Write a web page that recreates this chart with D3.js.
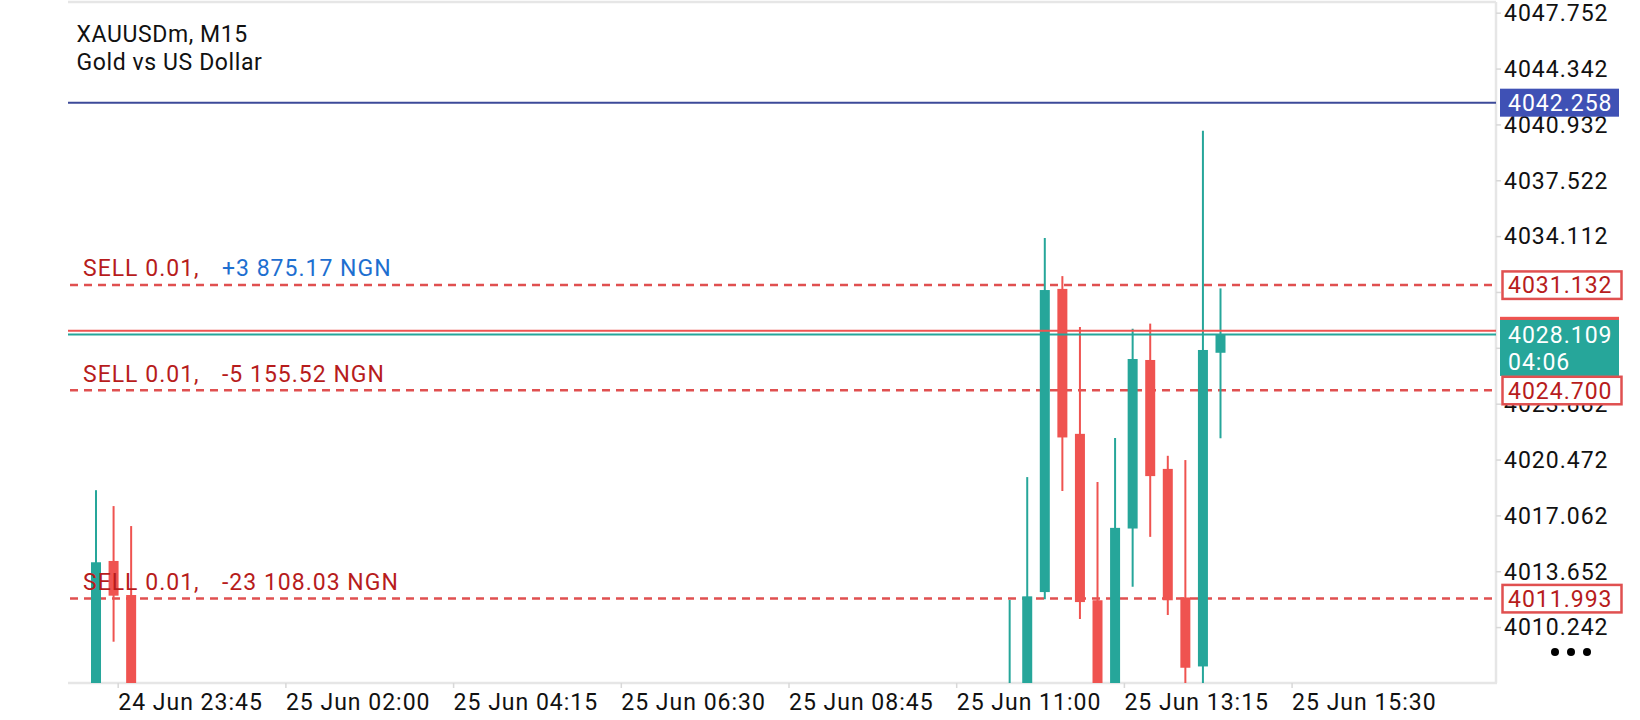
<!DOCTYPE html>
<html>
<head>
<meta charset="utf-8">
<script src="https://cdn.jsdelivr.net/npm/d3@7/dist/d3.min.js"></script>
<style>
  html, body { margin: 0; padding: 0; background: #ffffff; }
  svg { display: block; }
  text { font-family: Roboto, "Noto Sans", sans-serif; }
</style>
</head>
<body>
<svg id="chart" width="1640" height="720"></svg>
<script>
// ---------------- DATA ----------------
const symbolTitle = "XAUUSDm, M15";
const symbolDesc = "Gold vs US Dollar";

// visible candles: bar index (15-minute bars), OHLC
const barIndex = [0, 1, 2, 52, 53, 54, 55, 56, 57, 58, 59, 60, 61, 62, 63, 64];
const barOpen  = [4005.50, 4014.28, 4012.20, 4004.20, 4006.10, 4012.38, 4030.89, 4022.04, 4011.88, 4006.00, 4016.26, 4026.55, 4019.90, 4012.05, 4007.84, 4026.99];
const barHigh  = [4018.60, 4017.63, 4016.41, 4011.90, 4019.40, 4034.00, 4031.67, 4028.56, 4019.10, 4021.79, 4028.45, 4028.77, 4020.70, 4020.44, 4040.55, 4030.92];
const barLow   = [4004.80, 4009.35, 4004.50, 4003.60, 4005.40, 4011.94, 4018.55, 4010.74, 4004.90, 4005.20, 4012.70, 4015.75, 4010.98, 4006.30, 4006.40, 4021.77];
const barClose = [4014.20, 4012.16, 4005.90, 4006.10, 4012.12, 4030.82, 4021.82, 4011.77, 4006.00, 4016.30, 4026.61, 4019.46, 4011.88, 4007.76, 4027.16, 4028.109];

// price axis tick labels
const priceTicks = [4047.752, 4044.342, 4040.932, 4037.522, 4034.112, 4030.702, 4027.292, 4023.882, 4020.472, 4017.062, 4013.652, 4010.242];

// time axis tick labels
const timeTicks = [
  Date.UTC(2025, 5, 24, 23, 45), Date.UTC(2025, 5, 25, 2, 0), Date.UTC(2025, 5, 25, 4, 15),
  Date.UTC(2025, 5, 25, 6, 30), Date.UTC(2025, 5, 25, 8, 45), Date.UTC(2025, 5, 25, 11, 0),
  Date.UTC(2025, 5, 25, 13, 15), Date.UTC(2025, 5, 25, 15, 30)
];

// open positions
const orderPrice = [4031.132, 4024.700, 4011.993];
const orderSide = ["SELL 0.01,", "SELL 0.01,", "SELL 0.01,"];
const orderProfit = ["+3 875.17 NGN", "-5 155.52 NGN", "-23 108.03 NGN"];

const highLine = 4042.258;
const bidPrice = 4028.109;
const askPrice = 4028.33;
const countdown = "04:06";

// ---------------- LAYOUT ----------------
const plot = { left: 68, right: 1496, top: 2, bottom: 683 };
const priceTop = 4048.405, priceBottom = 4006.829;
const firstVisibleBar = -1.594, lastVisibleBar = 79.68;
const timeRangeStart = 117.7, timeRangeEnd = 1291.6;

const C_UP = "#26a69a", C_DN = "#ef5350", C_DASH = "#e05050";
const C_TXT_RED = "#b71c1c", C_TXT_BLUE = "#1e6fd0", C_BLUE = "#3f51b5";
const FONT = 23, LS = "1px";

const svg = d3.select("#chart");

const y = d3.scaleLinear().domain([priceBottom, priceTop]).range([plot.bottom, plot.top]);
const xb = d3.scaleLinear().domain([firstVisibleBar, lastVisibleBar]).range([plot.left, plot.right]);
const xt = d3.scaleUtc().domain([timeTicks[0], timeTicks[timeTicks.length - 1]]).range([timeRangeStart, timeRangeEnd]);

svg.append("defs").append("clipPath").attr("id", "plotClip")
  .append("rect").attr("x", plot.left).attr("y", plot.top)
  .attr("width", plot.right - plot.left).attr("height", plot.bottom - plot.top);

// frame
const frame = svg.append("g").attr("stroke", "#e6e6e6").attr("stroke-width", 2.5);
frame.append("line").attr("x1", plot.left).attr("x2", plot.right).attr("y1", plot.top).attr("y2", plot.top);
frame.append("line").attr("x1", plot.left).attr("x2", plot.right + 1).attr("y1", plot.bottom).attr("y2", plot.bottom);
frame.append("line").attr("x1", plot.right).attr("x2", plot.right).attr("y1", plot.top).attr("y2", plot.bottom);

// title
svg.append("text").attr("x", 76.5).attr("y", 41.7).attr("font-size", FONT).attr("letter-spacing", "0.6px")
  .attr("fill", "#111").text(symbolTitle);
svg.append("text").attr("x", 76.5).attr("y", 70).attr("font-size", FONT).attr("letter-spacing", "0.6px")
  .attr("fill", "#111").text(symbolDesc);

const plotG = svg.append("g").attr("clip-path", "url(#plotClip)");

// high line (blue)
plotG.append("line").attr("x1", plot.left).attr("x2", plot.right)
  .attr("y1", y(highLine)).attr("y2", y(highLine))
  .attr("stroke", "#3c4a99").attr("stroke-width", 2);

// order lines (dashed)
plotG.selectAll(".ord").data(orderPrice).join("line").attr("class", "ord")
  .attr("x1", plot.left + 2).attr("x2", plot.right)
  .attr("y1", d => y(d)).attr("y2", d => y(d))
  .attr("stroke", C_DASH).attr("stroke-width", 2.5).attr("stroke-dasharray", "8,6");

// order labels
orderPrice.forEach((p, i) => {
  const t = svg.append("text").attr("x", 83).attr("y", y(p) - 8.5).attr("font-size", FONT).attr("letter-spacing", LS);
  t.append("tspan").attr("fill", C_TXT_RED).text(orderSide[i]);
  t.append("tspan").attr("x", 222).attr("fill", orderProfit[i].startsWith("+") ? C_TXT_BLUE : C_TXT_RED).text(orderProfit[i]);
});

// candles
const candles = barIndex.map((b, i) => ({ b, o: barOpen[i], h: barHigh[i], l: barLow[i], c: barClose[i] }));
const cg = plotG.append("g");
const bodyW = 10;
cg.selectAll(".wick").data(candles).join("line").attr("class", "wick")
  .attr("x1", d => xb(d.b)).attr("x2", d => xb(d.b))
  .attr("y1", d => y(d.h)).attr("y2", d => y(d.l))
  .attr("stroke", d => d.c >= d.o ? C_UP : C_DN).attr("stroke-width", 2);
cg.selectAll(".body").data(candles).join("rect").attr("class", "body")
  .attr("x", d => xb(d.b) - bodyW / 2).attr("width", bodyW)
  .attr("y", d => y(Math.max(d.o, d.c)))
  .attr("height", d => Math.max(1, y(Math.min(d.o, d.c)) - y(Math.max(d.o, d.c))))
  .attr("fill", d => d.c >= d.o ? C_UP : C_DN);

// bid / ask lines
plotG.append("line").attr("x1", plot.left).attr("x2", plot.right)
  .attr("y1", y(askPrice)).attr("y2", y(askPrice)).attr("stroke", C_DN).attr("stroke-width", 2);
plotG.append("line").attr("x1", plot.left).attr("x2", plot.right)
  .attr("y1", y(bidPrice)).attr("y2", y(bidPrice)).attr("stroke", C_UP).attr("stroke-width", 2);

// price boxes geometry (used to hide axis labels fully covered by a box, as on the terminal)
const boxX = 1500, boxW = 119, boxH = 28;
const bidTop = y(bidPrice) - 14.5, bidH = 56;
const boxSpans = [[y(highLine) - boxH / 2, y(highLine) + boxH / 2], [bidTop - 4, bidTop + bidH]]
  .concat(orderPrice.map(p => [y(p) - 13.5, y(p) + 14]));
const coveredByBox = v => boxSpans.some(([a, b]) => y(v) - 8 >= a - 3 && y(v) + 8 <= b + 3);

// price axis
const yAxis = d3.axisRight(y).tickValues(priceTicks)
  .tickFormat(v => coveredByBox(v) ? "" : d3.format(".3f")(v)).tickSize(5).tickPadding(3);
const yg = svg.append("g").attr("transform", `translate(${plot.right},0)`).call(yAxis);
yg.select(".domain").remove();
yg.selectAll(".tick line").attr("stroke", "#d8d8d8").attr("stroke-width", 1.5);
yg.selectAll(".tick text").attr("font-size", FONT).attr("letter-spacing", LS)
  .attr("font-family", "Roboto").attr("fill", "#111").attr("dy", "0.34em");

// time axis
const xAxis = d3.axisBottom(xt).tickValues(timeTicks).tickFormat(d3.utcFormat("%d %b %H:%M")).tickSize(5);
const xg = svg.append("g").attr("transform", `translate(0,${plot.bottom})`).call(xAxis);
xg.select(".domain").remove();
xg.selectAll(".tick line").attr("stroke", "#d8d8d8").attr("stroke-width", 1.5);
xg.selectAll(".tick text").attr("font-size", FONT).attr("letter-spacing", LS)
  .attr("font-family", "Roboto").attr("fill", "#111")
  .attr("text-anchor", "start").attr("x", 0).attr("y", 27).attr("dy", 0);

// ask box (mostly hidden under bid box)
svg.append("rect").attr("x", boxX).attr("y", y(askPrice) - boxH / 2).attr("width", boxW).attr("height", boxH).attr("fill", C_DN);
// high line box
svg.append("rect").attr("x", boxX).attr("y", y(highLine) - boxH / 2).attr("width", boxW).attr("height", boxH).attr("fill", C_BLUE);
svg.append("text").attr("x", boxX + 8).attr("y", y(highLine) + 8.3).attr("font-size", FONT)
  .attr("letter-spacing", LS).attr("fill", "#fff").text(d3.format(".3f")(highLine));
// bid box with countdown
svg.append("rect").attr("x", boxX).attr("y", bidTop).attr("width", boxW).attr("height", bidH).attr("fill", C_UP);
svg.append("text").attr("x", boxX + 8).attr("y", y(bidPrice) + 8.5).attr("font-size", FONT).attr("letter-spacing", LS)
  .attr("fill", "#fff").text(d3.format(".3f")(bidPrice));
svg.append("text").attr("x", boxX + 8).attr("y", y(bidPrice) + 36).attr("font-size", FONT).attr("letter-spacing", LS)
  .attr("fill", "#fff").text(countdown);
// order boxes
orderPrice.forEach(p => {
  const yc = y(p);
  svg.append("rect").attr("x", 1502.5).attr("y", yc - 13.5).attr("width", 119).attr("height", 27.5)
    .attr("fill", "#fff").attr("stroke", C_DASH).attr("stroke-width", 2.5);
  svg.append("text").attr("x", 1508).attr("y", yc + 8.5).attr("font-size", FONT).attr("letter-spacing", LS)
    .attr("fill", C_TXT_RED).text(d3.format(".3f")(p));
});

// menu dots
svg.selectAll(".dot").data([0, 1, 2]).join("circle").attr("class", "dot")
  .attr("cx", d => 1555 + d * 16).attr("cy", 652).attr("r", 4).attr("fill", "#000");
</script>
</body>
</html>
